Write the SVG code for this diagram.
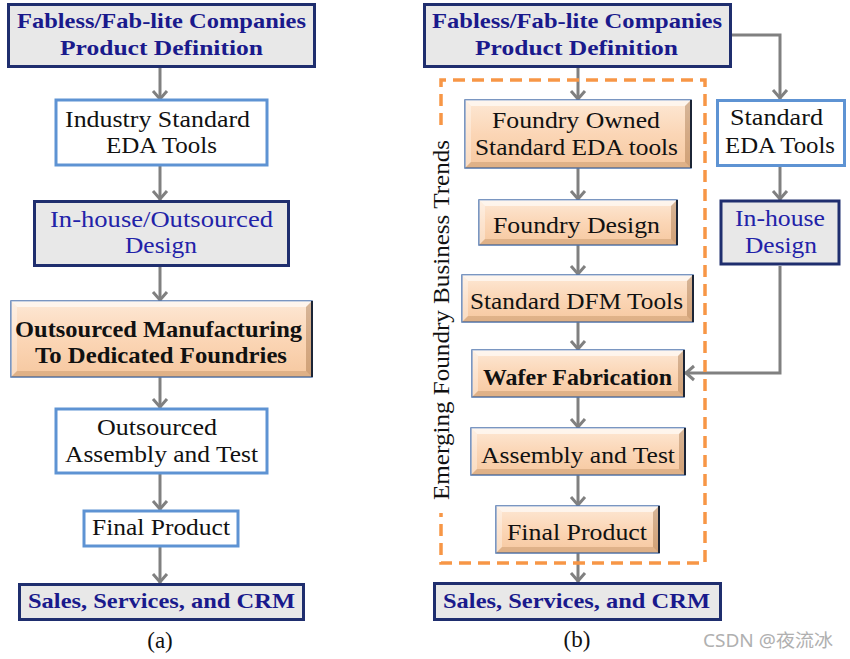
<svg xmlns="http://www.w3.org/2000/svg" width="850" height="659" viewBox="0 0 850 659">
<defs>
<linearGradient id="peach" x1="0" y1="0" x2="0" y2="1">
<stop offset="0" stop-color="#fde8d5"/>
<stop offset="0.5" stop-color="#fbd6b6"/>
<stop offset="1" stop-color="#f6c8a0"/>
</linearGradient>
<marker id="ah" markerUnits="userSpaceOnUse" markerWidth="20" markerHeight="20" viewBox="-10 -10 20 20" refX="1" refY="0" orient="auto">
<path d="M-8,-7 L0,0 L-8,7" fill="none" stroke="#808080" stroke-width="3" stroke-linejoin="miter"/>
</marker>
<style>
.gray{fill:#e8e8e8;stroke:#1f2e6e;stroke-width:3}
.white{fill:#ffffff;stroke:#5e93d3;stroke-width:3}
.pk{fill:url(#peach);stroke:#4f74ad;stroke-width:1.5}
.bt{fill:#ffffff;opacity:0.6}
.bl{fill:#ffffff;opacity:0.35}
.br{fill:#8b5a2b;opacity:0.35}
.bb{fill:#8b5a2b;opacity:0.22}
.edge{stroke:#1c2536;stroke-width:2}
.t{font-family:"Liberation Serif","Times New Roman",serif;font-size:23px;fill:#111;text-anchor:middle}
.nb{fill:#1a1a8c;font-weight:bold;font-size:22px}
.nr{fill:#2222a8}
.b{font-weight:bold}
.conn{fill:none;stroke:#808080;stroke-width:3;marker-end:url(#ah)}
.dash{fill:none;stroke:#f79646;stroke-width:3.5;stroke-dasharray:12 7}
</style>
</defs>
<rect width="850" height="659" fill="#ffffff"/>

<!-- connectors -->
<g id="connectors">
<path class="conn" d="M160,68 V100"/>
<path class="conn" d="M160,166 V200"/>
<path class="conn" d="M160,267 V301"/>
<path class="conn" d="M160,377 V408"/>
<path class="conn" d="M160,474 V510"/>
<path class="conn" d="M160,547 V583"/>
<path class="conn" d="M578,68 V100"/>
<path class="conn" d="M578,168 V200"/>
<path class="conn" d="M578,245 V275"/>
<path class="conn" d="M578,322 V350"/>
<path class="conn" d="M578,397 V428"/>
<path class="conn" d="M578,475 V506"/>
<path class="conn" d="M578,553 V582"/>
<path class="conn" d="M732,35 H780 V99"/>
<path class="conn" d="M780,166 V200"/>
<path class="conn" d="M780,266 V373 H685"/>
</g>

<!-- dashed group frame -->
<g id="trend-frame">
<path class="dash" d="M441,125 V80 H705 V563 H441 V513"/>
<text class="t" transform="translate(449,320) rotate(-90)" textLength="360" lengthAdjust="spacingAndGlyphs">Emerging Foundry Business Trends</text>
</g>

<!-- (a) column -->
<g id="a1">
<rect class="gray" x="8.5" y="4.5" width="306" height="62"/>
<text class="t nb" x="161.5" y="28" textLength="289" lengthAdjust="spacingAndGlyphs">Fabless/Fab-lite Companies</text>
<text class="t nb" x="161.5" y="55" textLength="203" lengthAdjust="spacingAndGlyphs">Product  Definition</text>
</g>
<g id="a2">
<rect class="white" x="56" y="100" width="211" height="65"/>
<text class="t" x="157.5" y="127" textLength="185" lengthAdjust="spacingAndGlyphs">Industry Standard</text>
<text class="t" x="161.5" y="153" textLength="111" lengthAdjust="spacingAndGlyphs">EDA Tools</text>
</g>
<g id="a3">
<rect class="gray" x="34.5" y="201.5" width="254" height="64"/>
<text class="t nr" x="161.5" y="227" textLength="223" lengthAdjust="spacingAndGlyphs">In-house/Outsourced</text>
<text class="t nr" x="161" y="253" textLength="72" lengthAdjust="spacingAndGlyphs">Design</text>
</g>
<g id="a4">
<rect class="pk" x="11" y="301" width="301" height="76"/>
<path class="bt" d="M11,301 h301 l-6,6 h-289 z"/>
<path class="bl" d="M11,301 l6,6 v64 l-6,6 z"/>
<path class="br" d="M312,301 v76 l-6,-6 v-64 z"/>
<path class="bb" d="M11,377 h301 l-6,-6 h-289 z"/>
<line class="edge" x1="312" y1="301" x2="312" y2="377"/>
<text class="t b" x="158.5" y="337" textLength="287" lengthAdjust="spacingAndGlyphs">Outsourced Manufacturing</text>
<text class="t b" x="161" y="363" textLength="252" lengthAdjust="spacingAndGlyphs">To Dedicated Foundries</text>
</g>
<g id="a5">
<rect class="white" x="56" y="409" width="211" height="64"/>
<text class="t" x="157" y="435" textLength="120" lengthAdjust="spacingAndGlyphs">Outsourced</text>
<text class="t" x="161.5" y="462" textLength="193" lengthAdjust="spacingAndGlyphs">Assembly and Test</text>
</g>
<g id="a6">
<rect class="white" x="84" y="511" width="154" height="35"/>
<text class="t" x="161" y="535" textLength="138" lengthAdjust="spacingAndGlyphs">Final Product</text>
</g>
<g id="a7">
<rect class="gray" x="19.5" y="584.5" width="284" height="35"/>
<text class="t nb" x="161.5" y="608" textLength="267" lengthAdjust="spacingAndGlyphs">Sales, Services, and CRM</text>
</g>
<text class="t" x="160" y="648" font-size="21">(a)</text>

<!-- (b) column -->
<g id="b-top">
<rect class="gray" x="424.5" y="4.5" width="306" height="62"/>
<text class="t nb" x="577" y="28" textLength="290" lengthAdjust="spacingAndGlyphs">Fabless/Fab-lite Companies</text>
<text class="t nb" x="576.5" y="55" textLength="203" lengthAdjust="spacingAndGlyphs">Product  Definition</text>
</g>
<g id="b1">
<rect class="pk" x="465" y="100" width="226" height="68"/>
<path class="bt" d="M465,100 h226 l-6,6 h-214 z"/>
<path class="bl" d="M465,100 l6,6 v56 l-6,6 z"/>
<path class="br" d="M691,100 v68 l-6,-6 v-56 z"/>
<path class="bb" d="M465,168 h226 l-6,-6 h-214 z"/>
<line class="edge" x1="691" y1="100" x2="691" y2="168"/>
<text class="t" x="576" y="128" textLength="168" lengthAdjust="spacingAndGlyphs">Foundry Owned</text>
<text class="t" x="576.5" y="155" textLength="203" lengthAdjust="spacingAndGlyphs">Standard EDA tools</text>
</g>
<g id="b2">
<rect class="pk" x="479" y="200" width="198" height="45"/>
<path class="bt" d="M479,200 h198 l-6,6 h-186 z"/>
<path class="bl" d="M479,200 l6,6 v33 l-6,6 z"/>
<path class="br" d="M677,200 v45 l-6,-6 v-33 z"/>
<path class="bb" d="M479,245 h198 l-6,-6 h-186 z"/>
<line class="edge" x1="677" y1="200" x2="677" y2="245"/>
<text class="t" x="576.5" y="233" textLength="167" lengthAdjust="spacingAndGlyphs">Foundry Design</text>
</g>
<g id="b3">
<rect class="pk" x="462" y="275" width="231" height="47"/>
<path class="bt" d="M462,275 h231 l-6,6 h-219 z"/>
<path class="bl" d="M462,275 l6,6 v35 l-6,6 z"/>
<path class="br" d="M693,275 v47 l-6,-6 v-35 z"/>
<path class="bb" d="M462,322 h231 l-6,-6 h-219 z"/>
<line class="edge" x1="693" y1="275" x2="693" y2="322"/>
<text class="t" x="576.5" y="309" textLength="213" lengthAdjust="spacingAndGlyphs">Standard DFM Tools</text>
</g>
<g id="b4">
<rect class="pk" x="472" y="350" width="212" height="47"/>
<path class="bt" d="M472,350 h212 l-6,6 h-200 z"/>
<path class="bl" d="M472,350 l6,6 v35 l-6,6 z"/>
<path class="br" d="M684,350 v47 l-6,-6 v-35 z"/>
<path class="bb" d="M472,397 h212 l-6,-6 h-200 z"/>
<line class="edge" x1="684" y1="350" x2="684" y2="397"/>
<text class="t b" x="577.5" y="385" textLength="189" lengthAdjust="spacingAndGlyphs">Wafer Fabrication</text>
</g>
<g id="b5">
<rect class="pk" x="471" y="428" width="214" height="47"/>
<path class="bt" d="M471,428 h214 l-6,6 h-202 z"/>
<path class="bl" d="M471,428 l6,6 v35 l-6,6 z"/>
<path class="br" d="M685,428 v47 l-6,-6 v-35 z"/>
<path class="bb" d="M471,475 h214 l-6,-6 h-202 z"/>
<line class="edge" x1="685" y1="428" x2="685" y2="475"/>
<text class="t" x="578" y="463" textLength="194" lengthAdjust="spacingAndGlyphs">Assembly and Test</text>
</g>
<g id="b6">
<rect class="pk" x="496" y="506" width="163" height="47"/>
<path class="bt" d="M496,506 h163 l-6,6 h-151 z"/>
<path class="bl" d="M496,506 l6,6 v35 l-6,6 z"/>
<path class="br" d="M659,506 v47 l-6,-6 v-35 z"/>
<path class="bb" d="M496,553 h163 l-6,-6 h-151 z"/>
<line class="edge" x1="659" y1="506" x2="659" y2="553"/>
<text class="t" x="577" y="540" textLength="140" lengthAdjust="spacingAndGlyphs">Final Product</text>
</g>
<g id="b7">
<rect class="gray" x="434.5" y="583.5" width="286" height="36"/>
<text class="t nb" x="576.5" y="608" textLength="267" lengthAdjust="spacingAndGlyphs">Sales, Services, and CRM</text>
</g>
<g id="side-eda">
<rect class="white" x="717.5" y="100.5" width="127" height="65"/>
<text class="t" x="776.5" y="125" textLength="93" lengthAdjust="spacingAndGlyphs">Standard</text>
<text class="t" x="780" y="153" textLength="110" lengthAdjust="spacingAndGlyphs">EDA Tools</text>
</g>
<g id="side-inhouse">
<rect class="gray" x="721" y="201" width="118" height="63"/>
<text class="t nr" x="780" y="226" textLength="90" lengthAdjust="spacingAndGlyphs">In-house</text>
<text class="t nr" x="781" y="253" textLength="72" lengthAdjust="spacingAndGlyphs">Design</text>
</g>
<text class="t" x="577" y="647" font-size="21">(b)</text>
<text x="703" y="647" font-family="'Noto Sans','Noto Sans CJK SC',sans-serif" font-size="18" fill="#b0b0b0" textLength="130" lengthAdjust="spacingAndGlyphs">CSDN @夜流冰</text>
</svg>
